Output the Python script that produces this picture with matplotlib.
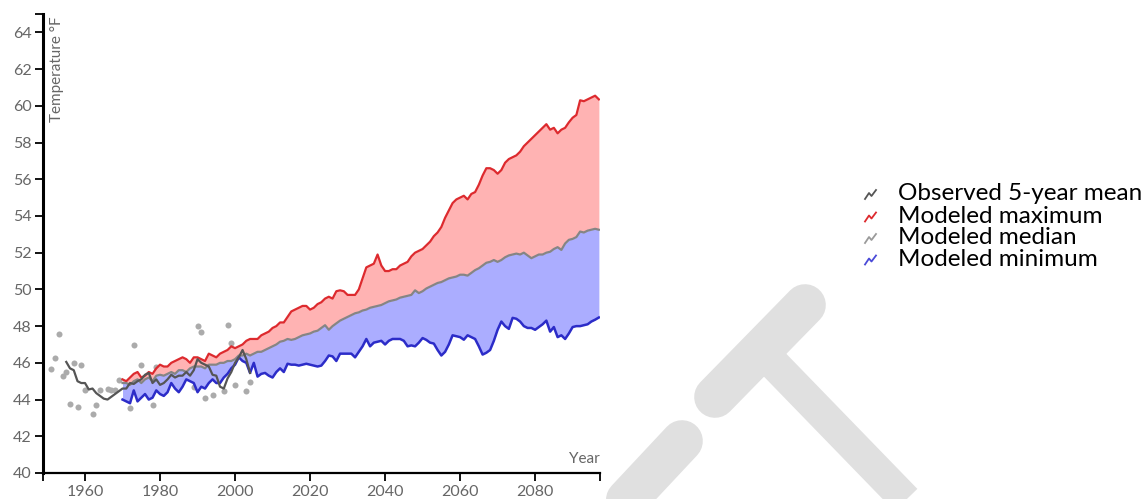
import numpy as np
import matplotlib
matplotlib.use("Agg")
import matplotlib.pyplot as plt
from matplotlib.lines import Line2D

# ----------------------------------------------------------------------
# DATA
# ----------------------------------------------------------------------
model_years = list(range(1970, 2098))

model_max = [45.1, 45.0, 45.2, 45.4, 45.5, 45.2, 45.3, 45.5, 45.4, 45.7,
             45.9, 45.8, 45.8, 46.0, 46.1, 46.2, 46.3, 46.2, 46.0, 46.3,
             46.3, 46.2, 46.1, 46.5, 46.4, 46.3, 46.5, 46.6, 46.7, 46.9,
             46.8, 46.9, 47.0, 47.2, 47.3, 47.3, 47.3, 47.5, 47.6, 47.7,
             47.9, 48.0, 48.2, 48.2, 48.5, 48.8, 48.9, 49.0, 49.1, 49.1,
             48.9, 49.0, 49.2, 49.3, 49.5, 49.6, 49.5, 49.9, 49.95, 49.9,
             49.7, 49.7, 49.7, 50.0, 50.6, 51.2, 51.3, 51.4, 51.9, 51.3,
             51.0, 51.0, 51.1, 51.1, 51.3, 51.4, 51.5, 51.8, 52.0, 52.1,
             52.2, 52.4, 52.6, 52.9, 53.1, 53.4, 53.9, 54.3, 54.7, 54.9,
             55.0, 55.1, 54.9, 55.2, 55.3, 55.7, 56.2, 56.6, 56.6, 56.5,
             56.3, 56.5, 56.9, 57.1, 57.2, 57.3, 57.5, 57.8, 58.0, 58.2,
             58.4, 58.6, 58.8, 59.0, 58.7, 58.8, 58.5, 58.7, 58.8, 59.1,
             59.35, 59.5, 60.3, 60.25, 60.35, 60.45, 60.55, 60.35]

model_median = [44.9, 44.9, 44.8, 45.0, 45.1, 44.9, 45.1, 45.2, 45.0, 45.3,
                45.35, 45.3, 45.4, 45.5, 45.4, 45.6, 45.6, 45.5, 45.7, 45.8,
                45.8, 45.8, 45.7, 45.9, 45.9, 45.9, 46.0, 46.0, 46.1, 46.1,
                46.2, 46.4, 46.4, 46.5, 46.4, 46.5, 46.6, 46.6, 46.7, 46.8,
                46.9, 47.0, 47.15, 47.2, 47.3, 47.25, 47.3, 47.4, 47.5, 47.55,
                47.6, 47.7, 47.75, 47.9, 48.05, 47.8, 48.0, 48.15, 48.3, 48.4,
                48.5, 48.6, 48.7, 48.75, 48.85, 48.9, 49.0, 49.05, 49.1, 49.15,
                49.25, 49.35, 49.4, 49.45, 49.55, 49.6, 49.65, 49.7, 49.95, 49.8,
                49.9, 50.05, 50.15, 50.25, 50.35, 50.4, 50.5, 50.6, 50.65, 50.7,
                50.8, 50.8, 50.75, 50.9, 51.05, 51.15, 51.3, 51.45, 51.5, 51.6,
                51.5, 51.6, 51.75, 51.85, 51.9, 51.95, 51.9, 52.0, 51.85, 51.7,
                51.8, 51.9, 51.9, 52.0, 52.05, 52.2, 52.3, 52.15, 52.5, 52.7,
                52.75, 52.85, 53.15, 53.1, 53.2, 53.25, 53.3, 53.25]

model_min = [44.0, 43.9, 43.8, 44.5, 43.9, 44.1, 44.3, 44.0, 44.1, 44.5,
             44.3, 44.2, 44.4, 44.9, 44.6, 44.4, 44.7, 45.1, 45.0, 44.9,
             44.4, 44.7, 44.6, 44.9, 45.1, 44.9, 44.9, 45.2, 45.4, 45.7,
             45.9, 46.3, 46.1, 46.0, 45.45, 46.0, 45.25, 45.4, 45.45, 45.3,
             45.2, 45.5, 45.7, 45.5, 45.95, 45.9, 45.9, 45.85, 45.9, 45.95,
             45.9, 45.85, 45.8, 45.85, 46.1, 46.4, 46.35, 46.1, 46.5, 46.5,
             46.5, 46.5, 46.3, 46.6, 46.9, 47.3, 46.9, 47.1, 47.15, 47.2,
             47.0, 47.2, 47.3, 47.3, 47.3, 47.2, 46.9, 46.95, 46.9, 47.1,
             47.35, 47.25, 47.1, 47.05, 46.7, 46.4, 46.6, 47.0, 47.5, 47.45,
             47.4, 47.26, 47.5, 47.4, 47.3, 46.9, 46.45, 46.55, 46.7, 47.2,
             47.8, 48.25, 48.0, 47.85, 48.45, 48.4, 48.25, 48.0, 47.9, 47.9,
             47.8, 47.95, 48.1, 48.3, 47.7, 47.95, 47.4, 47.5, 47.3, 47.6,
             47.95, 48.0, 48.0, 48.05, 48.1, 48.25, 48.35, 48.47]

obs_mean_years = list(range(1955, 2005))
obs_mean = [46.05, 45.7, 45.6, 45.0, 44.9, 44.9, 44.55, 44.6, 44.35, 44.2,
            44.05, 44.0, 44.15, 44.3, 44.45, 44.6, 44.6, 44.9, 44.85, 45.0,
            45.1, 45.35, 45.45, 44.9, 45.1, 44.8, 44.9, 45.1, 45.35, 45.2,
            45.3, 45.3, 45.5, 45.3, 45.6, 46.2, 46.0, 45.9, 45.8, 45.35,
            45.3, 44.7, 44.6, 45.15, 45.5, 46.0, 46.3, 46.7, 46.2, 45.45]

obs_years = [1951, 1952, 1953, 1954, 1955, 1956, 1957, 1958, 1959, 1960,
             1962, 1963, 1964, 1966, 1967, 1968, 1969, 1972, 1973, 1975,
             1978, 1979, 1989, 1990, 1991, 1992, 1994, 1997, 1998, 1999,
             2000, 2003, 2004]
obs_temp = [45.66, 46.26, 47.57, 45.3, 45.5, 43.75, 46.0, 43.6, 45.9, 44.5,
            43.2, 43.7, 44.5, 44.56, 44.5, 44.5, 45.05, 43.53, 46.95, 45.9,
            43.7, 45.8, 44.7, 48.0, 47.7, 44.07, 44.25, 44.44, 48.05, 47.07,
            44.8, 44.44, 44.98]

legend_labels = ["Observed 5-year mean", "Modeled maximum",
                 "Modeled median", "Modeled minimum"]

# colours
OBS_LINE = "#555555"
OBS_DOT = "#ababab"
MAX_LINE = "#dd2a2e"
MAX_FILL = "#ffb3b3"
MED_LINE = "#858585"
MIN_LINE = "#2c2cc8"
MIN_FILL = "#abadff"
TXT = "#666666"

W, H = 1147, 499


def fx(x):
    return np.asarray(x) / W


def fy(y):
    return 1 - np.asarray(y) / H


fig = plt.figure(figsize=(W / 100, H / 100), dpi=100)
ax = fig.add_axes([fx(43), fy(473), (600 - 43) / W, (473 - 14) / H])

# ----------------------------------------------------------------------
# PLOT
# ----------------------------------------------------------------------
ax.scatter(obs_years, obs_temp, s=19, color=OBS_DOT, linewidths=0, zorder=1)

ax.fill_between(model_years, model_median, model_max, color=MAX_FILL,
                linewidth=0, zorder=2)
ax.fill_between(model_years, model_min, model_median, color=MIN_FILL,
                linewidth=0, zorder=2)

ax.plot(model_years, model_max, color=MAX_LINE, lw=1.6, zorder=3)
ax.plot(model_years, model_median, color=MED_LINE, lw=1.6, zorder=3)
ax.plot(model_years, model_min, color=MIN_LINE, lw=1.8, zorder=3)
ax.plot(obs_mean_years, obs_mean, color=OBS_LINE, lw=1.6, zorder=4)

x0, x1 = 1948.8, 2097.3
ax.set_xlim(x0, x1)
ax.set_ylim(40, 65)

ax.set_xticks(range(1960, 2081, 20))
ax.set_yticks(range(40, 65, 2))
ax.set_xticks([x0, x1], minor=True)
ax.set_yticks([65], minor=True)

tick_font = dict(family="Lato", size=11.5)
ax.set_xticklabels([str(v) for v in range(1960, 2081, 20)], fontdict=tick_font, color=TXT)
ax.set_yticklabels([str(v) for v in range(40, 65, 2)], fontdict=tick_font, color=TXT)

for side in ("top", "right"):
    ax.spines[side].set_visible(False)
ax.spines["left"].set_linewidth(2.2)
ax.spines["bottom"].set_linewidth(1.6)
ax.tick_params(which="both", length=6, width=1.3, color="black", pad=2)
ax.tick_params(axis="x", which="major", pad=3)

ax.text(0.013, 0.995, "Temperature \u00b0F", transform=ax.transAxes, rotation=90,
        ha="left", va="top", family="Lato", size=11, color=TXT)
ax.text(1.0, 0.015, "Year", transform=ax.transAxes, ha="right", va="bottom",
        family="Lato", size=11, color=TXT)

# legend: small zig-zag icons with text
icon_colors = [OBS_LINE, MAX_LINE, "#9a9a9a", "#4a4ad8"]
row_y = [194, 216.5, 238, 259.5]
zig_dx = np.array([0, 4, 6.5, 11])
zig_dy = np.array([0, -6, -3, -9])
for lab, col, ry in zip(legend_labels, icon_colors, row_y):
    fig.add_artist(Line2D(fx(865 + zig_dx), fy(ry + 5 + zig_dy), color=col,
                          lw=1.3, transform=fig.transFigure))
    fig.text(fx(898), fy(ry), lab, ha="left", va="center", family="Lato",
             size=17.5, color="black")

# grey T mark in the lower right
mark = "#e0e0e0"
fig.add_artist(Line2D(fx([805, 715]), fy([305, 397]), color=mark,
                      lw=30, solid_capstyle="round", transform=fig.transFigure, zorder=0))
fig.add_artist(Line2D(fx([682, 580]), fy([441, 550]), color=mark,
                      lw=30, solid_capstyle="round", transform=fig.transFigure, zorder=0))
fig.add_artist(Line2D(fx([772, 935]), fy([362, 530]), color=mark,
                      lw=23, solid_capstyle="butt", transform=fig.transFigure, zorder=0))

fig.savefig("out.png", dpi=100)
